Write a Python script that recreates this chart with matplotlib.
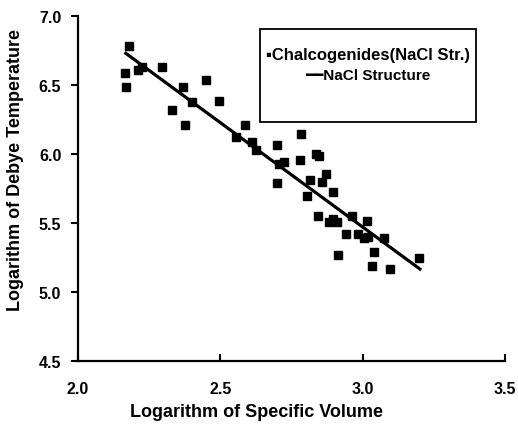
import matplotlib
matplotlib.use('Agg')
import matplotlib.pyplot as plt
from matplotlib.patches import Rectangle

# Chalcogenides (NaCl structure): log specific volume vs log Debye temperature
log_volume = [2.180, 2.165, 2.169, 2.212, 2.224, 2.296, 2.370, 2.330, 2.376, 2.401,
              2.449, 2.495, 2.555, 2.588, 2.610, 2.625, 2.698, 2.783, 2.725, 2.705,
              2.698, 2.780, 2.836, 2.848, 2.815, 2.856, 2.870, 2.803, 2.895, 2.844,
              2.883, 2.897, 2.911, 2.962, 3.014, 2.941, 2.985, 3.005, 3.020, 3.075,
              3.040, 2.912, 3.032, 3.096, 3.198]
log_debye = [6.785, 6.585, 6.483, 6.611, 6.633, 6.633, 6.483, 6.319, 6.210, 6.375,
             6.538, 6.386, 6.121, 6.212, 6.085, 6.031, 6.067, 6.143, 5.945, 5.925,
             5.788, 5.959, 6.000, 5.983, 5.814, 5.799, 5.855, 5.693, 5.727, 5.553,
             5.505, 5.529, 5.505, 5.549, 5.514, 5.418, 5.418, 5.389, 5.396, 5.391,
             5.292, 5.270, 5.186, 5.167, 5.244]

# NaCl structure trend line
fit_x = [2.168, 3.201]
fit_y = [6.730, 5.167]

plt.rcParams['font.family'] = ['Liberation Sans', 'DejaVu Sans']
plt.rcParams['font.weight'] = 'bold'

fig = plt.figure(figsize=(5.18, 4.27), dpi=100)
ax = fig.add_axes([0.1506, 0.152, 0.8244, 0.808])

ax.plot(log_volume, log_debye, 's', color='black', markersize=6.3)
ax.plot(fit_x, fit_y, '-', color='black', linewidth=2.3)

ax.set_xlim(2.0, 3.5)
ax.set_ylim(4.5, 7.0)
ax.set_xticks([2.0, 2.5, 3.0, 3.5])
ax.set_yticks([4.5, 5.0, 5.5, 6.0, 6.5, 7.0])
ax.set_xticklabels(['2.0', '2.5', '3.0', '3.5'])
ax.set_yticklabels(['4.5', '5.0', '5.5', '6.0', '6.5', '7.0'])

ax.spines['top'].set_visible(False)
ax.spines['right'].set_visible(False)
ax.spines['left'].set_linewidth(1.6)
ax.spines['bottom'].set_linewidth(1.6)
ax.tick_params(axis='y', direction='out', length=5, width=1.5, labelsize=11.5, pad=7)
ax.tick_params(axis='x', direction='in', length=5, width=1.5, labelsize=11.5, pad=14)

ax.set_xlabel('Logarithm of Specific Volume', fontsize=13, fontweight='bold')
ax.set_ylabel('Logarithm of Debye Temperature', fontsize=13, fontweight='bold')
ax.xaxis.set_label_coords(0.417, -0.122)
ax.yaxis.set_label_coords(-0.126, 0.557)

# legend box drawn by hand
ax.add_patch(Rectangle((0.426, 0.693), 0.506, 0.269, transform=ax.transAxes,
                       fill=False, edgecolor='black', linewidth=1.3))
ax.text(0.678, 0.89, '\u25aaChalcogenides(NaCl Str.)', transform=ax.transAxes,
        ha='center', va='center', fontsize=12, fontweight='bold',
        family=['Liberation Sans', 'DejaVu Sans'])
ax.text(0.678, 0.829, '\u2501\u2501NaCl Structure', transform=ax.transAxes,
        ha='center', va='center', fontsize=11, fontweight='bold',
        family=['Liberation Sans', 'DejaVu Sans'])

fig.savefig('out.png', dpi=100)
